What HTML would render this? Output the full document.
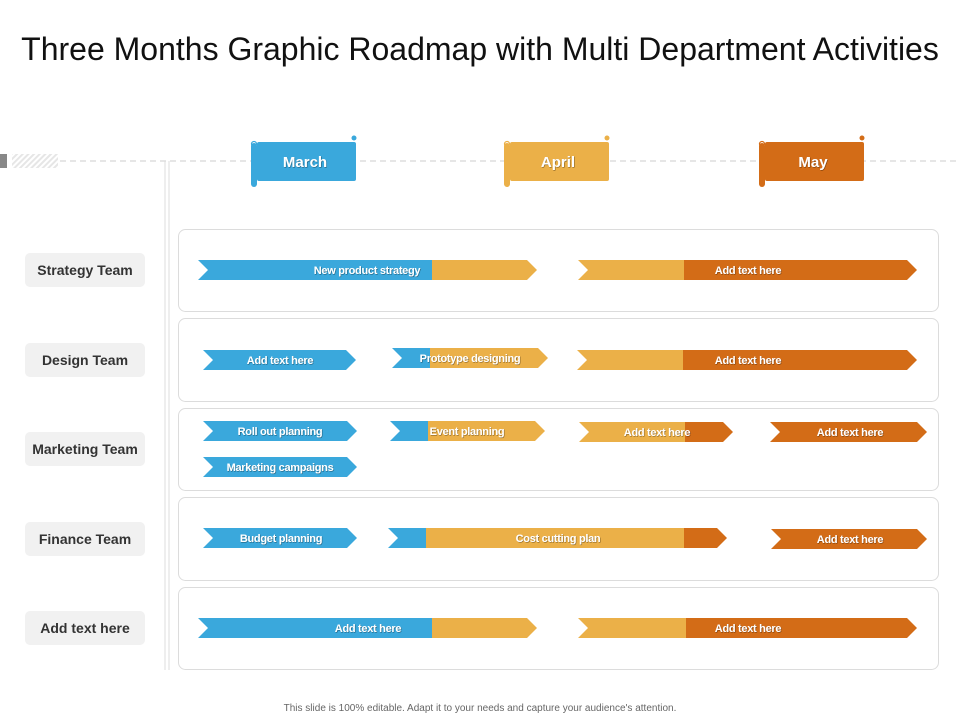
<!DOCTYPE html>
<html><head><meta charset="utf-8"><style>
body{margin:0;background:#fff;}
#wrap{position:relative;width:960px;height:720px;overflow:hidden;font-family:"Liberation Sans",sans-serif;}
</style></head><body>
<div id="wrap">
<svg id="svg" width="960" height="720" xmlns="http://www.w3.org/2000/svg">
<defs>
<pattern id="hatch" width="4" height="4" patternUnits="userSpaceOnUse" patternTransform="rotate(45)"><rect width="2" height="4" fill="#e6e6e6"/></pattern>
<filter id="ts"><feDropShadow dx="0.6" dy="0.6" stdDeviation="0.3" flood-color="#000" flood-opacity="0.45"/></filter>
</defs>
<text x="480" y="60" text-anchor="middle" font-size="32" fill="#111">Three Months Graphic Roadmap with Multi Department Activities</text>
<rect x="0" y="154" width="7" height="14" fill="#888"/>
<rect x="12" y="154" width="46" height="14" fill="url(#hatch)"/>
<line x1="60" y1="161" x2="960" y2="161" stroke="#ccc" stroke-dasharray="6,4"/>
<line x1="165" y1="161" x2="165" y2="670" stroke="#ddd"/>
<line x1="169" y1="161" x2="169" y2="670" stroke="#ddd"/>
<g id="months"></g>
<g id="panels"></g>
<g id="arrows"></g>
<text x="480" y="711" text-anchor="middle" font-size="10" fill="#666">This slide is 100% editable. Adapt it to your needs and capture your audience's attention.</text>
</svg>
</div>
<script>
const NS="http://www.w3.org/2000/svg";
const months=["March","April","May"];
const monthColors=["#3aa8dc","#ebb048","#d36c17"];
const monthX=[257,510,765];
const teams=["Strategy Team","Design Team","Marketing Team","Finance Team","Add text here"];
const panelTop=[229,318,408,497,587];
const panelBottom=[311,401,490,580,669];
const teamY=[270,360,449,539,628];
const taskRowY=[270,270,360,358,360,431,431,432,432,467,538,538,539,628,628];
const taskStart=[198,578,203,392,577,203,390,579,770,203,203,388,771,198,578];
const taskEnd=[537,917,356,548,917,357,545,733,927,357,357,727,927,537,917];
const taskLabels=["New product strategy","Add text here","Add text here","Prototype designing","Add text here","Roll out planning","Event planning","Add text here","Add text here","Marketing campaigns","Budget planning","Cost cutting plan","Add text here","Add text here","Add text here"];
const taskLabelX=[367,748,280,470,748,280,467,657,850,280,281,558,850,368,748];
const taskBreaks=[[432],[684],[],[430],[683],[],[428],[685],[],[],[],[426,684],[],[432],[686]];
const taskColors=[["#3aa8dc","#ebb048"],["#ebb048","#d36c17"],["#3aa8dc"],["#3aa8dc","#ebb048"],["#ebb048","#d36c17"],["#3aa8dc"],["#3aa8dc","#ebb048"],["#ebb048","#d36c17"],["#d36c17"],["#3aa8dc"],["#3aa8dc"],["#3aa8dc","#ebb048","#d36c17"],["#d36c17"],["#3aa8dc","#ebb048"],["#ebb048","#d36c17"]];
function mk(tag,attrs,parent){const e=document.createElementNS(NS,tag);for(const k in attrs)e.setAttribute(k,attrs[k]);parent.appendChild(e);return e;}
const gm=document.getElementById("months");
months.forEach((m,i)=>{
  const g=mk("g",{},gm);
  
  
  const x=monthX[i],c=monthColors[i];
  mk("rect",{x:x,y:142,width:99,height:39,rx:2,fill:c},g);
  mk("rect",{x:x-6,y:143,width:6,height:44,rx:3,fill:c},g);
  mk("circle",{cx:x-3,cy:144,r:2.5,fill:"none",stroke:c,"stroke-width":1.2},g);
  mk("circle",{cx:x+97,cy:138,r:2.5,fill:c},g);
  const t=mk("text",{x:x+48,y:167,"text-anchor":"middle","font-size":15,"font-weight":"bold",fill:"#fff",filter:"url(#ts)"},g);
  t.textContent=m;
});
const gp=document.getElementById("panels");
teams.forEach((t,i)=>{
  const r=mk("rect",{x:178.5,y:panelTop[i]+.5,width:760,height:panelBottom[i]-panelTop[i],rx:7,fill:"#fff",stroke:"#dcdcdc"},gp);
  
  
  const b=mk("rect",{x:25,y:teamY[i]-17,width:120,height:34,rx:5,fill:"#f1f1f1"},gp);
  
  
  const tx=mk("text",{x:85,y:teamY[i]+5,"text-anchor":"middle","font-size":14,"font-weight":"bold",fill:"#333"},gp);
  
  
  tx.textContent=t;
});
const ga=document.getElementById("arrows");
const H=10,D=10;
taskLabels.forEach((lab,i)=>{
  const y=taskRowY[i],s=taskStart[i],e=taskEnd[i];
  const g=mk("g",{},ga);
  
  
  const cp="ca"+i;
  const clip=mk("clipPath",{id:cp},g);
  mk("path",{d:`M${s} ${y-H}L${e-D} ${y-H}L${e} ${y}L${e-D} ${y+H}L${s} ${y+H}L${s+D} ${y}Z`},clip);
  const edges=[s].concat(taskBreaks[i]).concat([e]);
  for(let k=0;k<taskColors[i].length;k++){
    mk("rect",{x:edges[k],y:y-H,width:edges[k+1]-edges[k]+(k<taskColors[i].length-1?0.5:0),height:2*H,fill:taskColors[i][k],"clip-path":`url(#${cp})`},g);
  }
  const t=mk("text",{x:taskLabelX[i],y:y+4,"text-anchor":"middle","font-size":11,"font-weight":"bold",fill:"#fff",filter:"url(#ts)","letter-spacing":"-0.3"},g);
  
  
  t.textContent=lab;
});
</script>
</body></html>
